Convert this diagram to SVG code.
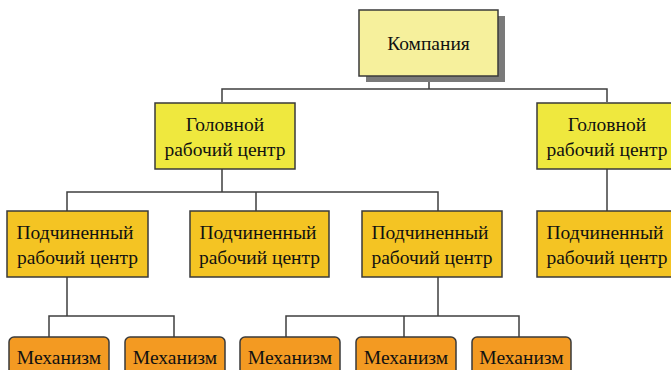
<svg xmlns="http://www.w3.org/2000/svg" width="671" height="370" viewBox="0 0 671 370">
  <style>
    .box { stroke: #3a3a3a; stroke-width: 1.5; }
    .company { fill: #f6f09c; }
    .head { fill: #efe83e; }
    .sub { fill: #f4c423; }
    .mech { fill: #f39a22; }
    .shadow { fill: #7a7a7a; }
    .link { fill: none; stroke: #3f3f3f; stroke-width: 1.5; }
  </style>
  <rect width="671" height="370" fill="#ffffff"/>

  <g id="connectors">
    <!-- company to head centres -->
    <path class="link" d="M429 76 V89 M222 102 V89 H607 V102"/>
    <!-- head centre 1 to subordinate centres -->
    <path class="link" d="M222 169 V192 M67 211 V192 H438 V211 M256 192 V211"/>
    <!-- head centre 2 to its subordinate -->
    <path class="link" d="M607 169 V211"/>
    <!-- subordinate 1 to mechanisms -->
    <path class="link" d="M67 277 V316 M49 337 V316 H174 V337"/>
    <!-- subordinate 3 to mechanisms -->
    <path class="link" d="M438 277 V316 M286 337 V316 H519 V337 M404 316 V337"/>
  </g>

  <g font-family="'Liberation Serif', 'DejaVu Serif', serif" font-size="19.5" fill="#111" text-anchor="middle">
    <g id="company">
      <rect class="shadow" x="366" y="16" width="139" height="66"/>
      <rect class="box company" x="359" y="10" width="139" height="66"/>
      <text x="428.5" y="50" fill="#111">Компания</text>
    </g>

    <g id="head-1">
      <rect class="box head" x="155" y="103" width="140" height="66"/>
      <text x="225" y="131" fill="#111">Головной</text>
      <text x="225" y="156" fill="#111">рабочий центр</text>
    </g>
    <g id="head-2">
      <rect class="box head" x="537" y="103" width="140" height="66"/>
      <text x="607" y="131" fill="#111">Головной</text>
      <text x="607" y="156" fill="#111">рабочий центр</text>
    </g>

    <g id="sub-1">
      <rect class="box sub" x="7" y="211" width="141" height="66"/>
      <text x="75" y="239" fill="#111">Подчиненный</text>
      <text x="77.5" y="264" fill="#111">рабочий центр</text>
    </g>
    <g id="sub-2">
      <rect class="box sub" x="190" y="211" width="139" height="66"/>
      <text x="258" y="239" fill="#111">Подчиненный</text>
      <text x="259.5" y="264" fill="#111">рабочий центр</text>
    </g>
    <g id="sub-3">
      <rect class="box sub" x="362" y="211" width="140" height="66"/>
      <text x="430" y="239" fill="#111">Подчиненный</text>
      <text x="432" y="264" fill="#111">рабочий центр</text>
    </g>
    <g id="sub-4">
      <rect class="box sub" x="537" y="211" width="140" height="66"/>
      <text x="605" y="239" fill="#111">Подчиненный</text>
      <text x="607" y="264" fill="#111">рабочий центр</text>
    </g>

    <g id="mech-1">
      <rect class="box mech" x="9" y="337" width="100" height="50" rx="5"/>
      <text x="59" y="364" fill="#111">Механизм</text>
    </g>
    <g id="mech-2">
      <rect class="box mech" x="125" y="337" width="100" height="50" rx="5"/>
      <text x="175" y="364" fill="#111">Механизм</text>
    </g>
    <g id="mech-3">
      <rect class="box mech" x="240" y="337" width="100" height="50" rx="5"/>
      <text x="290" y="364" fill="#111">Механизм</text>
    </g>
    <g id="mech-4">
      <rect class="box mech" x="356" y="337" width="100" height="50" rx="5"/>
      <text x="406" y="364" fill="#111">Механизм</text>
    </g>
    <g id="mech-5">
      <rect class="box mech" x="472" y="337" width="99" height="50" rx="5"/>
      <text x="521.5" y="364" fill="#111">Механизм</text>
    </g>
  </g>
</svg>
